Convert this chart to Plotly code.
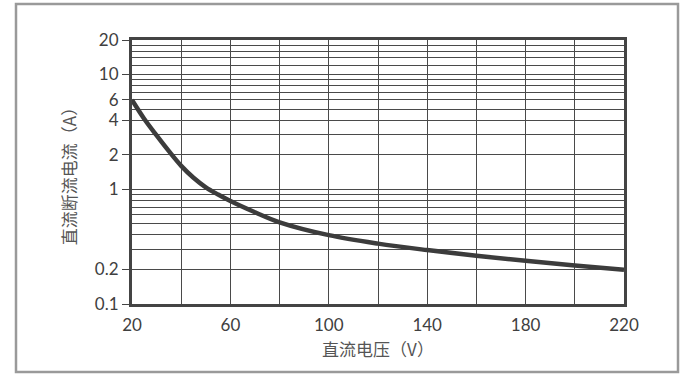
import plotly.graph_objects as go

# data
voltage = [20, 25, 30, 35, 40, 45, 50, 55, 60, 70, 80, 100, 120, 140, 160, 180, 200, 220]
current = [6.0, 4.1, 2.95, 2.15, 1.6, 1.26, 1.04, 0.9, 0.79, 0.63, 0.515, 0.398, 0.336, 0.295, 0.263, 0.238, 0.217, 0.199]

x_ticks = [20, 60, 100, 140, 180, 220]
x_grid = [40, 80, 120, 160, 200]
y_ticks = [0.1, 0.2, 1, 2, 4, 6, 10, 20]
y_ticklabels = ["0.1", "0.2", "1", "2", "4", "6", "10", "20"]
y_grid = [0.3, 0.4, 0.5, 0.6, 0.7, 0.8, 0.9, 3, 5, 7, 8, 9, 12, 14, 16, 18]

x_title = "直流电压（V）"
y_title = "直流断流电流（A）"

L, R, T, B = 132, 624, 40, 304
W, H = 685, 374

fig = go.Figure()
fig.add_trace(go.Scatter(
    x=voltage, y=current, mode="lines",
    line=dict(color="#3c3c3c", width=4.5, shape="spline", smoothing=1.0),
    hoverinfo="skip", showlegend=False,
))

grid_col = "#4a4a4a"
tick_font = dict(family="Lato, 'Noto Sans', sans-serif", size=17, color="#404040")
title_font = dict(family="Noto Sans CJK SC", size=17, color="#555555")

fig.update_layout(
    width=W, height=H,
    margin=dict(l=L, r=W - R, t=T, b=H - B, pad=0),
    paper_bgcolor="white", plot_bgcolor="white",
    xaxis=dict(
        range=[20, 220], tickmode="array", tickvals=x_ticks,
        ticktext=[str(v) for v in x_ticks],
        showgrid=True, gridcolor=grid_col, gridwidth=1,
        minor=dict(tickmode="array", tickvals=x_grid, showgrid=True,
                   gridcolor=grid_col, gridwidth=1, ticks=""),
        ticks="", ticklen=0, ticklabelstandoff=4,
        showline=True, linecolor="#444444", linewidth=3, mirror=True,
        tickfont=tick_font, zeroline=False,
        title=dict(text=x_title, font=title_font, standoff=10),
    ),
    yaxis=dict(
        type="log", range=[-1, 1.30103],
        tickmode="array", tickvals=y_ticks, ticktext=y_ticklabels,
        showgrid=True, gridcolor=grid_col, gridwidth=1,
        minor=dict(tickmode="array", tickvals=y_grid, showgrid=True,
                   gridcolor=grid_col, gridwidth=1, ticks=""),
        ticks="outside", ticklen=7, tickcolor="#444444", tickwidth=1,
        showline=True, linecolor="#444444", linewidth=3, mirror=True,
        tickfont=tick_font, zeroline=False,
        title=dict(text=y_title, font=title_font, standoff=14),
    ),
    shapes=[dict(
        type="rect", xref="paper", yref="paper",
        x0=(16 - L) / (R - L), x1=(678 - L) / (R - L),
        y0=(B - 372) / (B - T), y1=(B - 4) / (B - T),
        line=dict(color="#9a9a9a", width=2.5), layer="below",
    )],
)

fig.write_html("out.html", config={"displayModeBar": False},
               post_script="document.body.style.margin='0';")
